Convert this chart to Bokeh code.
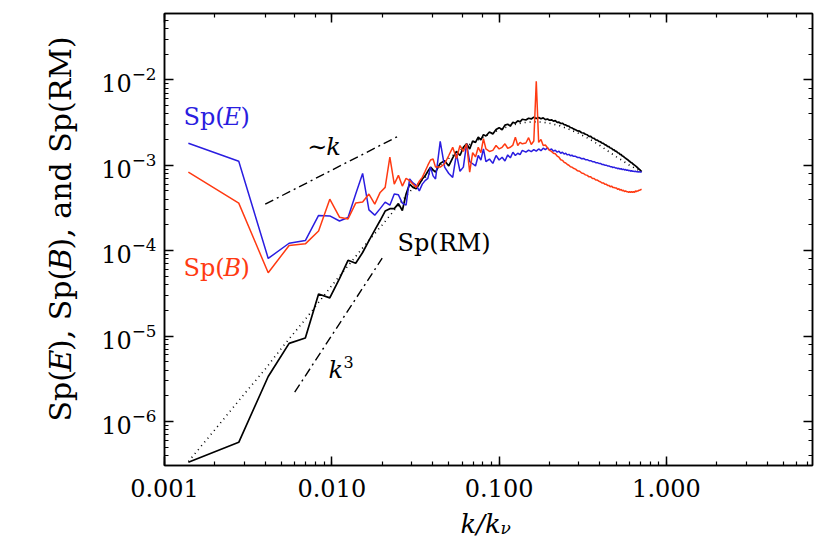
import math
from bokeh.plotting import figure
from bokeh.layouts import row, column
from bokeh.models import LogAxis, LogTicker, CustomJSTickFormatter, Label, Range1d
from bokeh.embed import file_html
from bokeh.resources import INLINE

# ---------------- data ----------------
DK = 0.001389          # k/k_nu of mode number 1
MILLI = 1e-3

n_low = list(range(1, 31))
n_high = [32, 34, 36, 38, 40, 42, 44, 46, 48, 50, 52, 54, 56, 58, 60,
          63, 66, 69, 72, 75, 78, 81, 84, 87, 90, 93, 96, 99,
          104, 108, 112, 116, 120, 124, 128, 132, 136, 140, 144, 148, 152, 156, 160,
          164, 168, 172, 176, 180, 184, 188, 192, 196, 200,
          206, 212, 218, 224, 230, 236, 242, 248, 254, 260, 266, 272, 278, 284, 290,
          296, 302, 308, 314, 320, 326, 332, 338, 344, 350, 356, 362, 368, 374, 380,
          386, 392, 398, 404, 410, 416, 422, 428, 434, 440, 446, 452, 458, 464, 470,
          476, 482, 488, 494, 500, 506, 512]

spE_low = [1.81e-3, 1.11e-3, 8.1e-5, 1.22e-4, 1.31e-4, 2.58e-4, 2.55e-4, 2.22e-4, 2.44e-4, 4.6e-4,
           8.0e-4, 3.0e-4, 2.6e-4, 3.1e-4, 3.7e-4, 3.4e-4, 4.6e-4, 4.5e-4, 3.6e-4, 3.4e-4,
           6.9e-4, 6.2e-4, 5.8e-4, 5.0e-4, 6.0e-4, 6.6e-4, 7.0e-4, 9.5e-4, 7.5e-4, 6.9e-4]
spB_low = [8.3e-4, 3.6e-4, 5.5e-5, 1.15e-4, 1.2e-4, 1.7e-4, 4.0e-4, 2.46e-4, 2.35e-4, 3.6e-4,
           3.7e-4, 4.6e-4, 3.5e-4, 4.8e-4, 5.5e-4, 1.24e-3, 6.0e-4, 7.6e-4, 5.7e-4, 7.0e-4,
           6.6e-4, 6.0e-4, 5.5e-4, 6.5e-4, 7.2e-4, 8.5e-4, 1.0e-3, 1.15e-3, 1.18e-3, 9.5e-4]
spRM_low = [3.33e-7, 5.7e-7, 3.36e-6, 8.2e-6, 9.5e-6, 3.1e-5, 2.8e-5, 4.7e-5, 7.7e-5, 7.1e-5,
            9.5e-5, 1.31e-4, 1.74e-4, 2.25e-4, 2.9e-4, 3.1e-4, 3.1e-4, 3.55e-4, 2.95e-4, 4.6e-4,
            6.0e-4, 5.5e-4, 5.3e-4, 6.0e-4, 6.9e-4, 7.5e-4, 8.5e-4, 9.5e-4, 8.8e-4, 8.3e-4]

# high-k values in units of 1e-3
spE_high = [1.90, 0.95, 0.80, 0.72, 1.36, 0.85, 0.95, 1.78, 1.10, 1.04, 0.98, 1.30, 1.15, 1.55, 1.10,
            1.18, 1.05, 1.30, 1.15, 1.24, 1.12, 1.32, 1.22, 1.42, 1.30, 1.38, 1.33, 1.49,
            1.42, 1.50, 1.44, 1.52, 1.46, 1.55, 1.48, 1.58, 1.52, 1.60, 1.50, 1.55, 1.46, 1.50, 1.42,
            1.46, 1.38, 1.42, 1.35, 1.38, 1.32, 1.34, 1.29, 1.31, 1.27,
            1.27, 1.23, 1.23, 1.19, 1.20, 1.16, 1.16, 1.13, 1.13, 1.10, 1.10, 1.07, 1.07, 1.05, 1.05,
            1.02, 1.02, 1.00, 1.00, 0.98, 0.98, 0.96, 0.96, 0.94, 0.95, 0.93, 0.93, 0.91, 0.92, 0.90,
            0.91, 0.89, 0.90, 0.88, 0.89, 0.87, 0.88, 0.86, 0.87, 0.85, 0.86, 0.85, 0.85, 0.84, 0.85,
            0.84, 0.84, 0.83, 0.84, 0.83, 0.83, 0.83]
spB_high = [0.95, 1.04, 1.30, 1.62, 1.20, 1.70, 1.45, 1.78, 0.83, 1.40, 1.25, 1.62, 1.40, 2.04, 1.55,
            1.45, 1.49, 1.70, 1.55, 1.62, 1.78, 1.58, 1.62, 1.72, 2.13, 1.70, 1.85, 1.78,
            1.82, 2.10, 1.75, 1.92, 9.60, 1.85, 2.00, 1.70, 1.72, 1.60, 1.49, 1.45, 1.38, 1.36, 1.28,
            1.24, 1.16, 1.14, 1.08, 1.06, 1.02, 1.00, 0.96, 0.95, 0.92,
            0.90, 0.86, 0.85, 0.81, 0.80, 0.77, 0.76, 0.73, 0.73, 0.70, 0.70, 0.67, 0.67, 0.65, 0.64,
            0.62, 0.62, 0.60, 0.60, 0.58, 0.58, 0.56, 0.57, 0.55, 0.55, 0.54, 0.54, 0.52, 0.53, 0.51,
            0.52, 0.50, 0.51, 0.49, 0.50, 0.49, 0.49, 0.48, 0.49, 0.48, 0.49, 0.48, 0.49, 0.48, 0.50,
            0.49, 0.50, 0.50, 0.51, 0.51, 0.52, 0.52]
spRM_high = [1.05, 1.13, 0.98, 1.22, 1.45, 1.30, 1.62, 1.78, 1.55, 1.92, 1.85, 2.13, 1.98, 2.28, 2.20,
             2.45, 2.32, 2.62, 2.75, 2.60, 2.95, 3.02, 2.88, 3.18, 3.10, 3.30, 3.22, 3.45,
             3.38, 3.55, 3.48, 3.65, 3.52, 3.62, 3.50, 3.58, 3.42, 3.48, 3.36, 3.40, 3.28, 3.32, 3.18,
             3.20, 3.08, 3.10, 2.98, 2.96, 2.88, 2.86, 2.76, 2.74, 2.66,
             2.60, 2.52, 2.50, 2.40, 2.38, 2.30, 2.27, 2.18, 2.17, 2.08, 2.06, 1.98, 1.97, 1.90, 1.88,
             1.82, 1.80, 1.74, 1.72, 1.66, 1.65, 1.59, 1.58, 1.52, 1.51, 1.46, 1.45, 1.40, 1.39, 1.34,
             1.33, 1.28, 1.27, 1.23, 1.21, 1.18, 1.16, 1.13, 1.11, 1.08, 1.07, 1.04, 1.02, 1.00, 0.98,
             0.96, 0.94, 0.92, 0.90, 0.88, 0.86, 0.84]

# dotted model curve for Sp(RM)
k_fit = [0.00139, 0.002, 0.003, 0.004, 0.005, 0.007, 0.01, 0.013, 0.016, 0.02, 0.025, 0.03,
         0.04, 0.05, 0.06, 0.07, 0.085, 0.1, 0.12, 0.14, 0.16, 0.18, 0.2, 0.23, 0.26, 0.3,
         0.35, 0.4, 0.45, 0.5, 0.55, 0.6, 0.65, 0.711]
sp_fit = [3.4e-7, 8.0e-7, 2.1e-6, 4.1e-6, 7.2e-6, 1.6e-5, 3.9e-5, 7.3e-5, 1.2e-4, 2.0e-4, 3.4e-4, 5.2e-4,
          8.6e-4, 1.2e-3, 1.55e-3, 1.85e-3, 2.25e-3, 2.6e-3, 2.95e-3, 3.15e-3, 3.22e-3, 3.2e-3, 3.1e-3,
          2.9e-3, 2.65e-3, 2.35e-3, 2.0e-3, 1.7e-3, 1.45e-3, 1.26e-3, 1.12e-3, 1.0e-3, 0.92e-3, 0.84e-3]

# reference power laws
k_lin = [0.004, 0.025]
y_lin = [3.5e-4, 2.19e-3]      # ~k
k_cub = [0.006, 0.020]
y_cub = [2.2e-6, 8.15e-5]      # k^3

n_all = n_low + n_high
k_all = [n * DK for n in n_all]
spE = spE_low + [v * MILLI for v in spE_high]
spB = spB_low + [v * MILLI for v in spB_high]
spRM = spRM_low + [v * MILLI for v in spRM_high]

BLUE = "#2a1de0"
RED = "#ff3a12"
FONT = "DejaVu Serif"

# ---------------- layout geometry ----------------
W_TOTAL, H_TOTAL = 814, 538
WY = 88                       # column that holds the rotated y title
WM = W_TOTAL - WY             # main figure width
HM = 506                      # main figure height
HX = H_TOTAL - HM             # strip holding the x title

# ---------------- main figure ----------------
p = figure(width=WM, height=HM, x_axis_type="log", y_axis_type="log",
           x_range=Range1d(0.001, 7.46), y_range=Range1d(3.05e-7, 0.0597),
           output_backend="svg", toolbar_location=None, title=None,
           min_border_left=76, min_border_right=2, min_border_top=13, min_border_bottom=41)
p.grid.visible = False
p.outline_line_color = "black"
p.outline_line_width = 1.5
p.background_fill_color = "white"
p.border_fill_color = "white"


def style_axis(ax):
    ax.axis_line_color = "black"
    ax.axis_line_width = 1.5
    ax.major_tick_in = 9
    ax.major_tick_out = 0
    ax.minor_tick_in = 4
    ax.minor_tick_out = 0
    ax.major_tick_line_color = "black"
    ax.minor_tick_line_color = "black"
    ax.major_tick_line_width = 1.5
    ax.minor_tick_line_width = 1.2
    ax.major_label_text_font = FONT
    ax.major_label_text_color = "black"
    ax.major_label_text_font_size = "24px"


p.xaxis.formatter = CustomJSTickFormatter(code="return tick.toFixed(3);")
for ax in p.xaxis:
    style_axis(ax)
    ax.major_label_standoff = 13
for ax in p.yaxis:
    style_axis(ax)
    ax.major_label_standoff = 8

top_ax = LogAxis(ticker=LogTicker(), formatter=CustomJSTickFormatter(code="return '';"))
right_ax = LogAxis(ticker=LogTicker(), formatter=CustomJSTickFormatter(code="return '';"))
for ax in (top_ax, right_ax):
    style_axis(ax)
    ax.major_label_standoff = 0
    ax.major_label_text_font_size = "1px"
p.add_layout(top_ax, "above")
p.add_layout(right_ax, "right")

# ---------------- curves ----------------
p.line(k_all, spRM, color="black", line_width=1.7)
p.line(k_fit, sp_fit, color="black", line_width=1.6, line_dash="1 4")
p.line(k_all, spE, color=BLUE, line_width=1.5)
p.line(k_all, spB, color=RED, line_width=1.5)
p.line(k_lin, y_lin, color="black", line_width=1.4, line_dash="9 4 2 4")
p.line(k_cub, y_cub, color="black", line_width=1.4, line_dash="9 4 2 4")


def lab(fig, x, y, text, color="black", size="24px", style="normal", xo=0, yo=0, **kw):
    fig.add_layout(Label(x=x, y=y, text=text, text_color=color, text_font=FONT,
                         text_font_size=size, text_font_style=style, x_offset=xo, y_offset=yo,
                         text_baseline="alphabetic", text_align="left", **kw))


# Sp(E)
lab(p, 0.0013, 3.71e-3, "Sp(", BLUE)
lab(p, 0.0013, 3.71e-3, "E", BLUE, style="italic", xo=40)
lab(p, 0.0013, 3.71e-3, ")", BLUE, xo=57)
# Sp(B)
lab(p, 0.0013, 6.34e-5, "Sp(", RED)
lab(p, 0.0013, 6.34e-5, "B", RED, style="italic", xo=40)
lab(p, 0.0013, 6.34e-5, ")", RED, xo=57)
# ~k
lab(p, 0.00713, 1.655e-3, "\u223c")
lab(p, 0.00713, 1.655e-3, "k", style="italic", xo=19)
# Sp(RM)
lab(p, 0.0247, 1.244e-4, "Sp(RM)")
# k^3
lab(p, 0.00955, 3.99e-6, "k", style="italic")
lab(p, 0.00955, 3.99e-6, "3", size="16px", xo=15, yo=8)

# ---------------- y title strip ----------------
py_ = figure(width=WY, height=H_TOTAL, x_range=Range1d(0, 1), y_range=Range1d(0, 1),
             x_axis_location=None, y_axis_location=None, title=None,
             output_backend="svg", toolbar_location=None, min_border=0)
py_.grid.visible = False
py_.outline_line_color = None
FS = 30
Y0 = 117
XB = 60
pieces = [("Sp(", "normal", 0.0), ("E", "italic", 1.667), ("), Sp(", "normal", 2.35),
          ("B", "italic", 5.043), ("), and Sp(RM)", "normal", 5.733)]
for txt, sty, off in pieces:
    py_.add_layout(Label(x=XB, y=Y0 + off * FS, x_units="screen", y_units="screen", text=txt,
                         angle=math.pi / 2, text_font=FONT, text_font_size=f"{FS}px",
                         text_font_style=sty, text_color="black", text_baseline="alphabetic",
                         text_align="left"))

# ---------------- x title strip ----------------
px_ = figure(width=WM, height=HX, x_range=Range1d(0, 1), y_range=Range1d(0, 1),
             x_axis_location=None, y_axis_location=None, title=None,
             output_backend="svg", toolbar_location=None, min_border=0)
px_.grid.visible = False
px_.outline_line_color = None
XT = 296
px_.add_layout(Label(x=XT, y=15, x_units="screen", y_units="screen", text="k/k",
                     text_font=FONT, text_font_size="26px", text_font_style="italic",
                     text_color="black", text_baseline="alphabetic"))
px_.add_layout(Label(x=XT + 40, y=11, x_units="screen", y_units="screen", text="\u03bd",
                     text_font=FONT, text_font_size="17px", text_font_style="italic",
                     text_color="black", text_baseline="alphabetic"))

layout = row(py_, column(p, px_, spacing=0), spacing=0)
open("out.html", "w").write(file_html(layout, INLINE))
